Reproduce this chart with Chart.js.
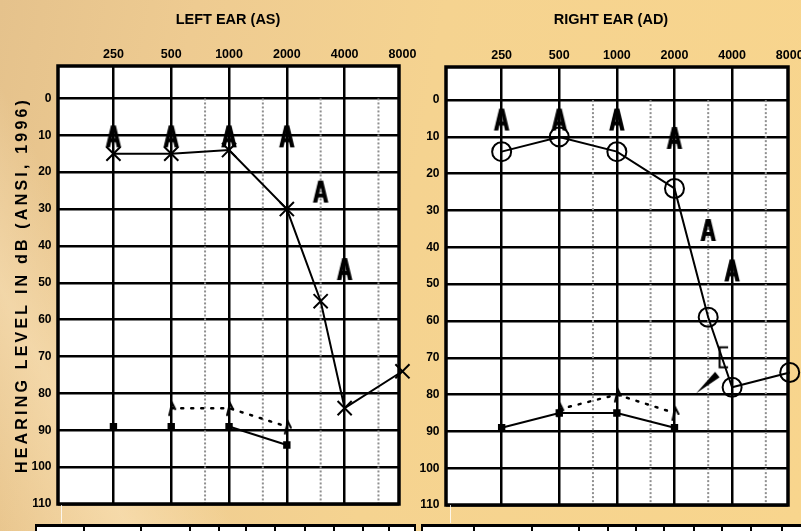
<!DOCTYPE html>
<html>
<head>
<meta charset="utf-8">
<script src="https://cdn.jsdelivr.net/npm/chart.js@4.4.1/dist/chart.umd.min.js"></script>
<style>
  html, body { margin: 0; padding: 0; }
  body {
    width: 801px; height: 531px; overflow: hidden; position: relative;
    background:
      linear-gradient(62deg, rgba(255,236,200,0) 0%, rgba(255,236,200,0.45) 12%, rgba(255,236,200,0) 22%),
      linear-gradient(100deg, #e5c28c 0%, #eecb91 22%, #f5d390 50%, #f8d58d 100%);
    font-family: "Liberation Sans", Arial, sans-serif;
  }
  canvas { position: absolute; left: 0; top: 0; }
  .tbl { position: absolute; top: 524px; height: 30px; display: flex; background: #fff;
         border-top: 3px solid #000; border-left: 2px solid #000; }
  .tbl div { border-right: 2px solid #000; box-sizing: border-box; height: 100%; }
  .streak { position: absolute; top: 505px; width: 1px; height: 18px; background: rgba(255,255,255,0.8); }
</style>
</head>
<body>
<canvas id="leftEar" width="801" height="531"></canvas>
<canvas id="rightEar" width="801" height="531"></canvas>

<div class="tbl" style="left:35px">
  <div style="width:48px"></div><div style="width:57px"></div><div style="width:49px"></div>
  <div style="width:29px"></div><div style="width:27px"></div><div style="width:29px"></div>
  <div style="width:30px"></div><div style="width:29px"></div><div style="width:29px"></div>
  <div style="width:26px"></div><div style="width:26px"></div>
</div>
<div class="tbl" style="left:421px">
  <div style="width:52px"></div><div style="width:58px"></div><div style="width:47px"></div>
  <div style="width:29px"></div><div style="width:28px"></div><div style="width:28px"></div>
  <div style="width:30px"></div><div style="width:28px"></div><div style="width:29px"></div>
  <div style="width:31px"></div><div style="width:31px"></div>
</div>
<div class="streak" style="left:61px"></div>
<div class="streak" style="left:450px"></div>

<script>
"use strict";

/* frequencies and labels */
const freqLabels = [250, 500, 1000, 2000, 4000, 8000];
const halfOctaves = [750, 1500, 3000, 6000];
const dbTicks = [0, 10, 20, 30, 40, 50, 60, 70, 80, 90, 100, 110];

/* air conduction (X left, O right) */
const airFreqs = [250, 500, 1000, 2000, 3000, 4000, 8000];
const leftAir = [15, 15, 14, 30, 55, 84, 74];
const rightAir = [14, 10, 14, 24, 59, 78, 74];

/* "A" symbols */
const aFreqs = [250, 500, 1000, 2000, 3000, 4000];
const leftA = [10, 10, 10, 10, 25, 46];
const rightA = [5, 5, 5, 10, 35, 46];

/* bone conduction (small squares) */
const boneFreqs = [250, 500, 1000, 2000];
const leftBone = [89, 89, 89, 94];
const rightBone = [89, 85, 85, 89];

/* masked bone (dotted line) */
const maskedFreqs = [500, 1000, 2000];
const leftMasked = [84, 84, 89];
const rightMasked = [84, 80, 85];

/* right ear masked symbol with no-response arrow */
const rightNoRespFreqs = [4000];
const rightNoResp = [70];

const FONT = '"Liberation Sans", Arial, sans-serif';

/* symbol pictures used as point styles */
function glyphA() {
    const c = document.createElement('canvas');
    c.width = 24; c.height = 28;
    const g = c.getContext('2d');
    g.fillStyle = '#000';
    g.font = 'bold 32px ' + FONT;
    g.textAlign = 'center';
    g.translate(12, 14 + 11.5);
    g.scale(0.66, 1);
    [-1, 0, 1].forEach(dx => g.fillText('A', dx, 0));
    return c;
}

function glyphCaret() {
    const c = document.createElement('canvas');
    c.width = 14; c.height = 18;
    const g = c.getContext('2d');
    g.strokeStyle = '#000';
    g.lineWidth = 2;
    g.lineCap = 'round';
    g.beginPath();
    g.moveTo(5, 16);
    g.lineTo(8, 4);
    g.lineTo(11, 10);
    g.stroke();
    return c;
}

function glyphBracketArrow() {
    const c = document.createElement('canvas');
    c.width = 80; c.height = 80;
    const g = c.getContext('2d');
    g.strokeStyle = '#000';
    g.fillStyle = '#000';
    g.lineWidth = 2;
    g.beginPath();
    g.moveTo(36, 29.5);
    g.lineTo(27.5, 29.5);
    g.lineTo(27.5, 49.5);
    g.lineTo(36, 49.5);
    g.stroke();
    g.beginPath();
    g.moveTo(4, 75.5);
    g.lineTo(23, 54);
    g.lineTo(27.5, 59.5);
    g.closePath();
    g.fill();
    return c;
}

const imgA = glyphA();
const imgCaret = glyphCaret();
const imgBracket = glyphBracketArrow();

const pts = (fs, vs) => fs.map((f, i) => ({ x: f, y: vs[i] }));

/* white plot area, heavy frame and texts */
const framePlugin = {
    id: 'frame',
    beforeDraw(chart) {
        const a = chart.chartArea;
        const ctx = chart.ctx;
        ctx.save();
        ctx.fillStyle = '#fff';
        ctx.fillRect(a.left, a.top, a.right - a.left, a.bottom - a.top);
        ctx.restore();
    },
    afterDraw(chart, args, opts) {
        const a = chart.chartArea;
        const ctx = chart.ctx;
        ctx.save();
        ctx.strokeStyle = '#000';
        ctx.lineWidth = 3.5;
        ctx.strokeRect(a.left, a.top, a.right - a.left, a.bottom - a.top);
        ctx.fillStyle = '#000';
        ctx.font = 'bold 14.5px ' + FONT;
        ctx.textAlign = 'center';
        ctx.fillText(opts.title, opts.titleX, 24);
        if (opts.yTitle) {
            ctx.translate(26.5, (a.top + a.bottom) / 2);
            ctx.rotate(-Math.PI / 2);
            ctx.font = 'bold 16px ' + FONT;
            ctx.letterSpacing = '3.2px';
            ctx.fillText(opts.yTitle, 0, 0);
        }
        ctx.restore();
    }
};

function makeEar(id, o) {
    const datasets = halfOctaves.map(f => ({
        data: [{ x: f, y: 0 }, { x: f, y: 110 }],
        borderColor: '#8f8f8f', borderWidth: 2, borderDash: [2, 2],
        pointRadius: 0, order: 20
    }));

    datasets.push({
        data: pts(airFreqs, o.air),
        borderColor: '#000', borderWidth: 2,
        pointStyle: o.airStyle, pointRadius: o.airRadius, pointBorderWidth: 2,
        pointBorderColor: '#000', pointBackgroundColor: 'rgba(0,0,0,0)',
        clip: false, order: 1
    });
    datasets.push({
        data: pts(aFreqs, o.aided),
        showLine: false, pointStyle: imgA, clip: false, order: 2
    });
    datasets.push({
        data: pts(boneFreqs, o.bone),
        borderColor: '#000', borderWidth: 2,
        pointStyle: 'rect', pointRadius: 3.8,
        pointBackgroundColor: '#000', pointBorderColor: '#000',
        segment: { borderColor: c => (c.p0DataIndex < o.boneHidden ? 'rgba(0,0,0,0)' : '#000') },
        order: 3
    });
    datasets.push({
        data: pts(maskedFreqs, o.masked),
        borderColor: '#000', borderWidth: 2.5, borderDash: [2, 8], borderCapStyle: 'round',
        pointStyle: imgCaret, order: 4
    });
    if (o.noResp) {
        datasets.push({
            data: pts(rightNoRespFreqs, o.noResp),
            showLine: false, pointStyle: imgBracket, clip: false, order: 5
        });
    }

    return new Chart(document.getElementById(id), {
        type: 'line',
        data: { datasets: datasets },
        options: {
            responsive: false,
            animation: false,
            events: [],
            devicePixelRatio: 1,
            layout: { padding: o.padding },
            plugins: {
                legend: { display: false },
                tooltip: { enabled: false },
                frame: { title: o.title, titleX: o.titleX, yTitle: o.yTitle }
            },
            scales: {
                x: {
                    type: 'logarithmic', position: 'top', bounds: 'data',
                    min: o.xMin, max: o.xMax,
                    afterBuildTicks: s => { s.ticks = freqLabels.map(v => ({ value: v })); },
                    afterFit: s => { s.height = o.top; s.paddingLeft = 0; s.paddingRight = 0; },
                    ticks: {
                        autoSkip: false, maxRotation: 0, minRotation: 0, padding: 4,
                        color: '#000', font: { family: FONT, weight: 'bold', size: 12.5 },
                        callback: v => String(v)
                    },
                    grid: {
                        color: c => (c.tick && c.tick.value > 4000 ? 'rgba(0,0,0,0)' : '#000'),
                        lineWidth: 2.5, drawTicks: false
                    },
                    border: { display: false }
                },
                y: {
                    type: 'linear', reverse: true, bounds: 'data',
                    min: o.yMin, max: 110,
                    afterBuildTicks: s => { s.ticks = dbTicks.map(v => ({ value: v })); },
                    afterFit: s => { s.width = o.yWidth; s.paddingTop = 0; s.paddingBottom = 0; },
                    ticks: {
                        padding: 6.5, color: '#000',
                        font: { family: FONT, weight: 'bold', size: 12 },
                        callback: v => String(v)
                    },
                    grid: { color: '#000', lineWidth: 2.5, drawTicks: false },
                    border: { display: false }
                }
            }
        },
        plugins: [framePlugin]
    });
}

makeEar('leftEar', {
    title: 'LEFT EAR (AS)', titleX: 228,
    yTitle: 'HEARING LEVEL IN dB (ANSI, 1996)',
    air: leftAir, airStyle: 'crossRot', airRadius: 10,
    aided: leftA, bone: leftBone, boneHidden: 2, masked: leftMasked,
    padding: { left: 0, top: 0, right: 402, bottom: 27 },
    top: 66, yWidth: 58, xMin: 128.6, xMax: 7676, yMin: -8.8
});

makeEar('rightEar', {
    title: 'RIGHT EAR (AD)', titleX: 611,
    air: rightAir, airStyle: 'circle', airRadius: 9.5,
    aided: rightA, bone: rightBone, boneHidden: 0, masked: rightMasked,
    noResp: rightNoResp,
    padding: { left: 406, top: 0, right: 13, bottom: 26 },
    top: 67, yWidth: 40, xMin: 128, xMax: 7836, yMin: -9
});
</script>
</body>
</html>
